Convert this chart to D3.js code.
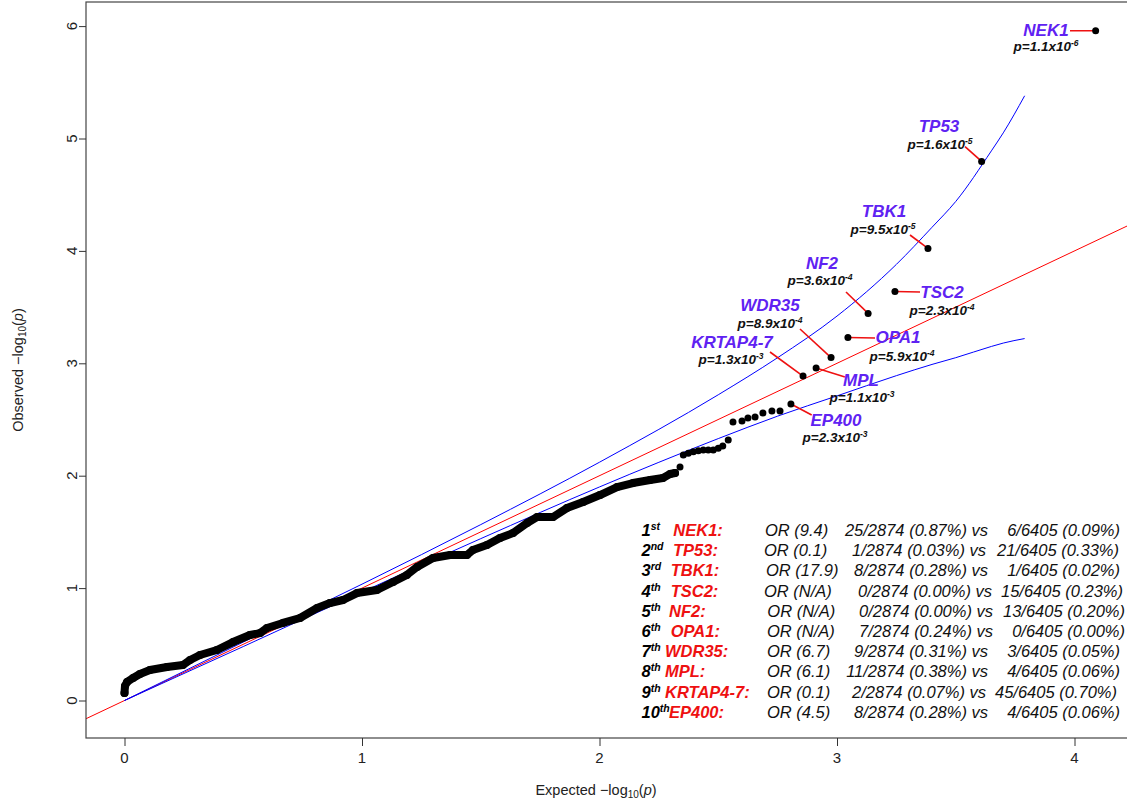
<!DOCTYPE html>
<html><head><meta charset="utf-8">
<script src="https://cdn.jsdelivr.net/npm/d3@7"></script>
<style>
body{margin:0;background:#fff}
text{font-family:"Liberation Sans",Arial,sans-serif}
</style>
</head><body>
<svg id="chart" width="1127" height="802"></svg>
<script>
// ---------------- DATA ----------------
// dense part of the observed QQ curve (expected, observed -log10 p)
const denseExpected = [0,0.002,0.011,0.036,0.065,0.107,0.179,0.246,0.276,0.318,0.389,0.457,0.528,0.571,0.60,0.667,0.739,0.811,0.865,0.92,0.979,1.063,1.131,1.189,1.232,1.299,1.371,1.442,1.467,1.526,1.581,1.636,1.695,1.737,1.804,1.863,1.931,2.002,2.074,2.141,2.213,2.267,2.297,2.318];
const denseObserved = [0.067,0.129,0.165,0.20,0.236,0.271,0.298,0.316,0.36,0.405,0.449,0.52,0.583,0.60,0.645,0.69,0.734,0.823,0.867,0.894,0.956,0.983,1.054,1.117,1.188,1.268,1.294,1.294,1.339,1.383,1.446,1.49,1.579,1.632,1.632,1.712,1.766,1.828,1.899,1.935,1.962,1.98,2.015,2.024];
// sparse (individually visible) points
const sparseExpected = [2.339,2.353,2.374,2.395,2.416,2.437,2.458,2.479,2.50,2.519,2.542,2.562,2.60,2.625,2.655,2.688,2.726,2.76];
const sparseObserved = [2.077,2.184,2.199,2.214,2.222,2.229,2.229,2.229,2.244,2.265,2.318,2.478,2.487,2.513,2.522,2.558,2.576,2.576];
// top ten genes
const genes = ["NEK1","TP53","TBK1","TSC2","NF2","OPA1","WDR35","MPL","KRTAP4-7","EP400"];
const geneExpected = [4.089,3.609,3.383,3.244,3.131,3.046,2.975,2.912,2.857,2.806];
const pMantissa = ["1.1","1.6","9.5","2.3","3.6","5.9","8.9","1.1","1.3","2.3"];
const pExponent = [-6,-5,-5,-4,-4,-4,-4,-3,-3,-3];
// 95% confidence band
const bandExpected = [0,0.5,1,1.5,2,2.5,2.75,3,3.25,3.4,3.5,3.65,3.7,3.79];
const bandUpper = [0,0.52,1.035,1.565,2.12,2.72,3.05,3.42,3.88,4.21,4.44,4.89,5.05,5.38];
const bandLower = [0,0.48,0.965,1.44,1.90,2.33,2.53,2.71,2.89,2.99,3.05,3.15,3.18,3.22];
// table
const ranks = ["1","2","3","4","5","6","7","8","9","10"];
const rankSuffix = ["st","nd","rd","th","th","th","th","th","th","th"];
const oddsRatio = ["9.4","0.1","17.9","N/A","N/A","N/A","6.7","6.1","0.1","4.5"];
const caseCounts = ["25/2874 (0.87%)","1/2874 (0.03%)","8/2874 (0.28%)","0/2874 (0.00%)","0/2874 (0.00%)","7/2874 (0.24%)","9/2874 (0.31%)","11/2874 (0.38%)","2/2874 (0.07%)","8/2874 (0.28%)"];
const controlCounts = ["6/6405 (0.09%)","21/6405 (0.33%)","1/6405 (0.02%)","15/6405 (0.23%)","13/6405 (0.20%)","0/6405 (0.00%)","3/6405 (0.05%)","4/6405 (0.06%)","45/6405 (0.70%)","4/6405 (0.06%)"];
const xTicks = [0,1,2,3,4];
const yTicks = [0,1,2,3,4,5,6];

// ---------------- LAYOUT ----------------
const labelLayout = [ // name centre, p centre, connector start (pixels)
  {nx:1046,ny:29.5,px:1046,py:46.5,cx:1070,cy:30.7},
  {nx:939,ny:126,px:940,py:144,cx:965,cy:146.7},
  {nx:884,ny:210.7,px:883,py:229,cx:910,cy:235},
  {nx:942,ny:291.7,px:942,py:310,cx:920,cy:292},
  {nx:822,ny:262.7,px:820,py:280,cx:846,cy:292},
  {nx:898,ny:337,px:902,py:355.7,cx:875,cy:338},
  {nx:770,ny:305,px:770,py:323,cx:800,cy:329},
  {nx:861,ny:380,px:862,py:396.7,cx:845,cy:377},
  {nx:732,ny:341.7,px:731,py:359,cx:770,cy:352},
  {nx:836,ny:420,px:835,py:436.7,cx:811.7,cy:415}
];
const tableGeneX = [673.3,673,670.7,670.7,669,670.7,665,665,665,669];
const tableORX = [765,764,766,764,767.3,767,767,767,767,767];
const tableCaseEnd = [988,986,988,992,993,993,988,988,986,988];
const tableCtrlEnd = [1120,1119,1120,1123,1125,1125,1120,1120,1117,1120];

const svg = d3.select("#chart");
const L=86, R=1140, T=2, B=738;
const x = d3.scaleLinear().domain([(L-124.5)/237.5,(R-124.5)/237.5]).range([L,R]);
const y = d3.scaleLinear().domain([(700.5-B)/112.4,(700.5-T)/112.4]).range([B,T]);

svg.append("defs").append("clipPath").attr("id","clip")
  .append("rect").attr("x",L).attr("y",T).attr("width",R-L).attr("height",B-T);
const plot = svg.append("g").attr("clip-path","url(#clip)");

// red diagonal
plot.append("line")
  .attr("x1",x(x.domain()[0])).attr("y1",y(x.domain()[0]))
  .attr("x2",x(x.domain()[1])).attr("y2",y(x.domain()[1]))
  .attr("stroke","#ff0000").attr("stroke-width",1);

// blue bands
const bandLine = acc => d3.line().x((d,i)=>x(bandExpected[i])).y((d,i)=>y(acc[i])).curve(d3.curveMonotoneX)(bandExpected);
plot.append("path").attr("d",bandLine(bandUpper)).attr("fill","none").attr("stroke","#0000ff").attr("stroke-width",1);
plot.append("path").attr("d",bandLine(bandLower)).attr("fill","none").attr("stroke","#0000ff").attr("stroke-width",1);

// dense points
plot.append("path")
  .attr("d", d3.line().x((d,i)=>x(denseExpected[i])).y((d,i)=>y(denseObserved[i]))(denseExpected))
  .attr("fill","none").attr("stroke","#000").attr("stroke-width",8)
  .attr("stroke-linejoin","round").attr("stroke-linecap","round");
plot.selectAll("circle.dense").data(denseExpected).join("circle")
  .attr("class","dense").attr("cx",d=>x(d)).attr("cy",(d,i)=>y(denseObserved[i])).attr("r",4).attr("fill","#000");
plot.selectAll("circle.sparse").data(sparseExpected).join("circle")
  .attr("class","sparse").attr("cx",d=>x(d)).attr("cy",(d,i)=>y(sparseObserved[i])).attr("r",3.5).attr("fill","#000");

// gene annotations
const geneObs = pMantissa.map((m,i)=>-Math.log10(+m*Math.pow(10,pExponent[i])));
genes.forEach((g,i)=>{
  const lay = labelLayout[i];
  const dx = x(geneExpected[i]), dy = y(geneObs[i]);
  svg.append("line").attr("x1",lay.cx).attr("y1",lay.cy).attr("x2",dx).attr("y2",dy)
    .attr("stroke","#ee1111").attr("stroke-width",1.6);
  svg.append("circle").attr("cx",dx).attr("cy",dy).attr("r",3.5).attr("fill","#000");
  svg.append("text").attr("x",lay.nx).attr("y",lay.ny+6).attr("text-anchor","middle")
    .attr("font-size",17).attr("font-weight","bold").attr("font-style","italic")
    .attr("fill","#5f22f2").text(g);
  const t = svg.append("text").attr("x",lay.px).attr("y",lay.py+4.8).attr("text-anchor","middle")
    .attr("font-size",13.5).attr("font-weight","bold").attr("font-style","italic").attr("fill","#111");
  t.append("tspan").text("p="+pMantissa[i]+"x10");
  t.append("tspan").attr("dy",-5).attr("font-size",8.5).text(String(pExponent[i]));
});

// box
svg.append("rect").attr("x",L).attr("y",T).attr("width",R-L).attr("height",B-T)
  .attr("fill","none").attr("stroke","#444").attr("stroke-width",1.2);

// axes
const xAxis = svg.append("g").attr("transform",`translate(0,${B})`)
  .call(d3.axisBottom(x).tickValues(xTicks).tickSize(8).tickFormat(""));
xAxis.select(".domain").remove();
xAxis.selectAll("line").attr("stroke","#333");
const yAxis = svg.append("g").attr("transform",`translate(${L},0)`)
  .call(d3.axisLeft(y).tickValues(yTicks).tickSize(7).tickFormat(""));
yAxis.select(".domain").remove();
yAxis.selectAll("line").attr("stroke","#333");

svg.selectAll("text.xt").data(xTicks).join("text").attr("class","xt")
  .attr("x",d=>x(d)).attr("y",763).attr("text-anchor","middle").attr("font-size",15).attr("fill","#222").text(d=>d);
svg.selectAll("text.yt").data(yTicks).join("text").attr("class","yt")
  .attr("transform",d=>`translate(77,${y(d)}) rotate(-90)`).attr("text-anchor","middle")
  .attr("font-size",15).attr("fill","#222").text(d=>d);

// axis titles
const xt = svg.append("text").attr("x",596).attr("y",795).attr("text-anchor","middle").attr("font-size",14.5).attr("fill","#222");
xt.append("tspan").text("Expected \u2212log");
xt.append("tspan").attr("dy",3).attr("font-size",10).text("10");
xt.append("tspan").attr("dy",-3).text("(");
xt.append("tspan").attr("font-style","italic").text("p");
xt.append("tspan").text(")");
const yt = svg.append("text").attr("transform","translate(23,370) rotate(-90)").attr("text-anchor","middle").attr("font-size",14.5).attr("fill","#222");
yt.append("tspan").text("Observed \u2212log");
yt.append("tspan").attr("dy",3).attr("font-size",10).text("10");
yt.append("tspan").attr("dy",-3).text("(");
yt.append("tspan").attr("font-style","italic").text("p");
yt.append("tspan").text(")");

// table
const FS = 16.5;
const rowY = i => 530 + i*20.2 + 6;
ranks.forEach((r,i)=>{
  const t = svg.append("text").attr("x",641.5).attr("y",rowY(i)).attr("font-size",FS)
    .attr("font-weight","bold").attr("font-style","italic").attr("fill","#000");
  t.append("tspan").text(r);
  t.append("tspan").attr("dy",-6).attr("font-size",10.5).text(rankSuffix[i]);
  svg.append("text").attr("x",tableGeneX[i]).attr("y",rowY(i)).attr("font-size",FS)
    .attr("font-weight","bold").attr("font-style","italic").attr("fill","#ee1111").text(genes[i]+":");
  svg.append("text").attr("x",tableORX[i]).attr("y",rowY(i)).attr("font-size",FS)
    .attr("font-style","italic").attr("fill","#111").text("OR ("+oddsRatio[i]+")");
  svg.append("text").attr("x",tableCaseEnd[i]).attr("y",rowY(i)).attr("font-size",FS).attr("text-anchor","end")
    .attr("font-style","italic").attr("fill","#111").text(caseCounts[i]+" vs");
  svg.append("text").attr("x",tableCtrlEnd[i]).attr("y",rowY(i)).attr("font-size",FS).attr("text-anchor","end")
    .attr("font-style","italic").attr("fill","#111").text(controlCounts[i]);
});
</script>
</body></html>
